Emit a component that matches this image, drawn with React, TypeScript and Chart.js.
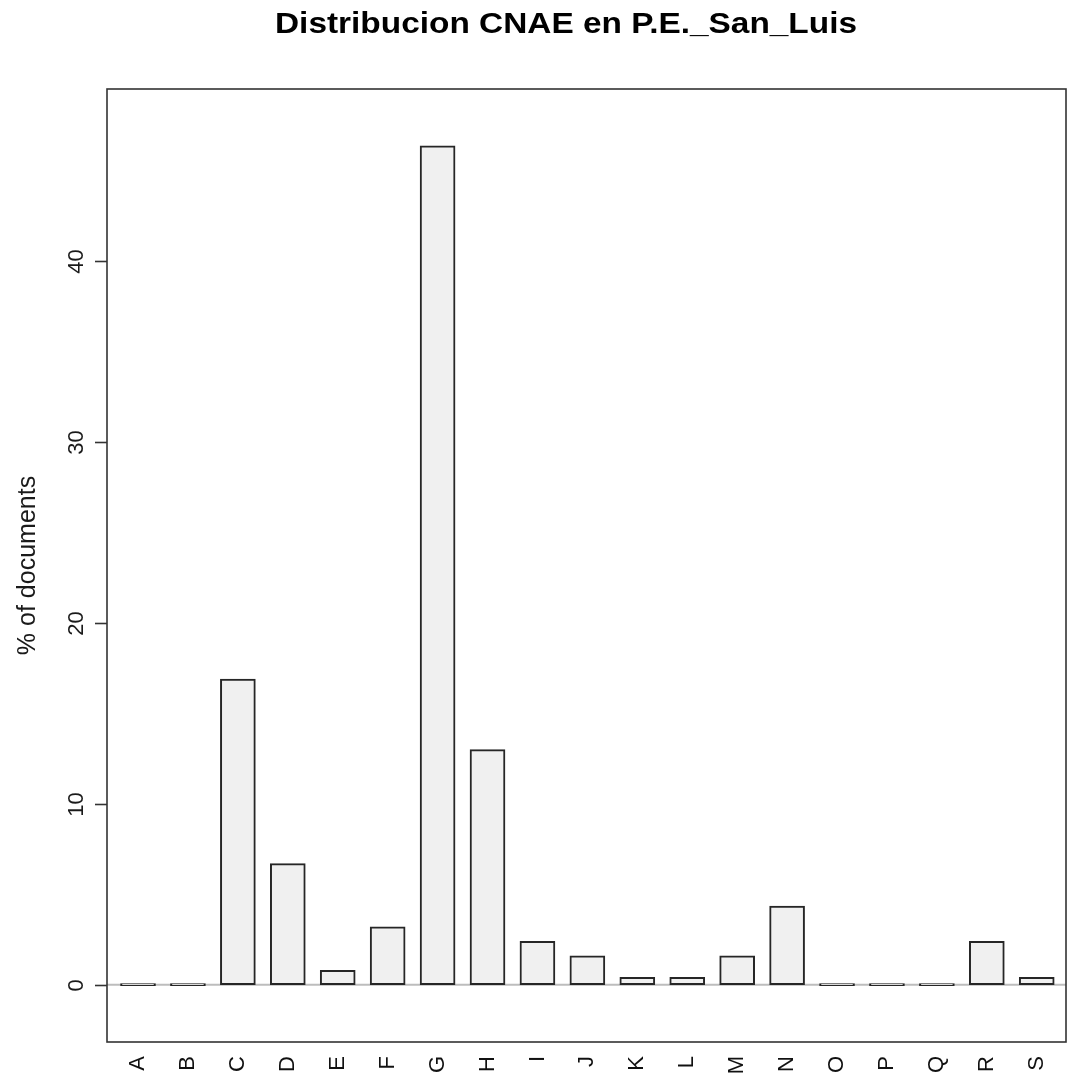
import React, { useEffect, useRef } from "react";
import { Chart, registerables } from "chart.js";

Chart.register(...registerables);

const TITLE = "Distribucion CNAE en P.E._San_Luis";
const Y_LABEL = "% of documents";
const categories = ["A", "B", "C", "D", "E", "F", "G", "H", "I", "J", "K", "L", "M", "N", "O", "P", "Q", "R", "S"];
const percentages = [0, 0, 16.9, 6.7, 0.8, 3.2, 46.4, 13.0, 2.4, 1.6, 0.4, 0.4, 1.6, 4.35, 0, 0, 0, 2.4, 0.4];
const yTicks = [0, 10, 20, 30, 40];

const W = 1067;
const H = 1078;

const decorPlugin = {
  id: "decor",
  beforeDatasetsDraw(chart: any) {
    const { ctx, chartArea, scales } = chart;
    const y0 = scales.y.getPixelForValue(0);
    ctx.save();
    ctx.strokeStyle = "#bdbdbd";
    ctx.lineWidth = 2;
    ctx.beginPath();
    ctx.moveTo(chartArea.left, y0);
    ctx.lineTo(chartArea.right, y0);
    ctx.stroke();
    ctx.restore();
  },
  afterDraw(chart: any) {
    const { ctx, chartArea, scales } = chart;
    ctx.save();
    // plot box
    ctx.strokeStyle = "#333333";
    ctx.lineWidth = 1.6;
    ctx.strokeRect(chartArea.left, chartArea.top, chartArea.right - chartArea.left, chartArea.bottom - chartArea.top);
    // y ticks and labels
    ctx.fillStyle = "#1a1a1a";
    ctx.font = "22px 'Liberation Sans', Arial, sans-serif";
    for (const t of yTicks) {
      const py = Math.round(scales.y.getPixelForValue(t)) + 0.5;
      ctx.beginPath();
      ctx.moveTo(chartArea.left - 12, py);
      ctx.lineTo(chartArea.left, py);
      ctx.stroke();
      ctx.save();
      ctx.translate(83, py);
      ctx.rotate(-Math.PI / 2);
      ctx.textAlign = "center";
      ctx.textBaseline = "alphabetic";
      ctx.fillText(String(t), 0, 0);
      ctx.restore();
    }
    // y axis title
    ctx.save();
    ctx.font = "25px 'Liberation Sans', Arial, sans-serif";
    ctx.translate(35, (chartArea.top + chartArea.bottom) / 2);
    ctx.rotate(-Math.PI / 2);
    ctx.textAlign = "center";
    ctx.textBaseline = "alphabetic";
    ctx.fillText(Y_LABEL, 0, 0);
    ctx.restore();
    // main title
    ctx.save();
    ctx.fillStyle = "#000000";
    ctx.font = "bold 29px 'Liberation Sans', Arial, sans-serif";
    const tw = ctx.measureText(TITLE).width;
    const sx = 582 / tw;
    ctx.translate(566, 33);
    ctx.scale(sx, 1);
    ctx.textAlign = "center";
    ctx.textBaseline = "alphabetic";
    ctx.fillText(TITLE, 0, 0);
    ctx.restore();
    ctx.restore();
  },
};

export default function App() {
  const ref = useRef<HTMLCanvasElement | null>(null);
  useEffect(() => {
    if (!ref.current) return;
    const chart = new Chart(ref.current, {
      type: "bar",
      data: {
        datasets: [
          {
            data: percentages.map((v, i) => ({ x: i, y: v })),
            backgroundColor: "#f0f0f0",
            borderColor: "#262626",
            borderWidth: 2,
            borderSkipped: false,
            barThickness: 35,
            minBarLength: 2,
          },
        ],
      },
      options: {
        responsive: false,
        animation: false,
        devicePixelRatio: 1,
        layout: { padding: { left: 107, top: 89, right: 1, bottom: 0 } },
        plugins: { legend: { display: false }, tooltip: { enabled: false }, title: { display: false } },
        scales: {
          x: {
            type: "linear",
            offset: false,
            min: -0.621,
            max: 18.586,
            grid: { display: false, drawTicks: false, offset: false },
            border: { display: false },
            afterBuildTicks: (scale: any) => {
              scale.ticks = categories.map((_, i) => ({ value: i }));
            },
            afterFit: (scale: any) => {
              scale.height = 36;
              scale.paddingLeft = 0;
              scale.paddingRight = 0;
            },
            ticks: {
              autoSkip: false,
              minRotation: 90,
              maxRotation: 90,
              padding: 14,
              color: "#111111",
              font: { family: "'Liberation Sans', Arial, sans-serif", size: 22 },
              callback: (v: any) => categories[v as number] ?? "",
            },
          },
          y: {
            display: false,
            min: -3.17,
            max: 49.54,
          },
        },
      },
      plugins: [decorPlugin],
    });
    return () => chart.destroy();
  }, []);
  return (
    <div style={{ position: "fixed", left: 0, top: 0, width: W, height: H, background: "#ffffff" }}>
      <canvas ref={ref} width={W} height={H} style={{ display: "block", width: W, height: H }} />
    </div>
  );
}
